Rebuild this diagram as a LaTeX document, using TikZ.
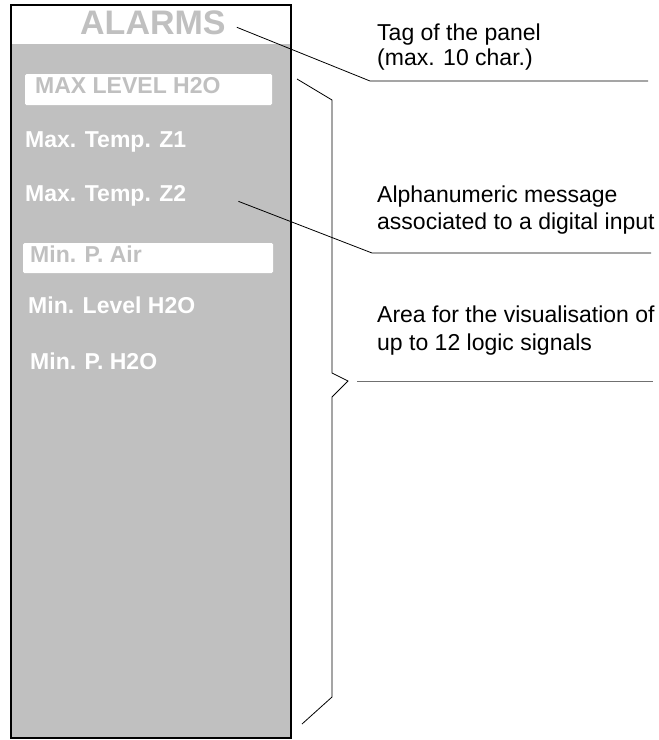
\documentclass[tikz,border=0pt]{standalone}
\usepackage{fontspec}
\setmainfont{Liberation Sans}
\definecolor{pgrey}{HTML}{C0C0C0}
\definecolor{lgrey}{HTML}{707070}
\begin{document}
\begin{tikzpicture}[x=1bp,y=-1bp,
  lbl/.style={inner sep=0pt, anchor=base west, font=\bfseries\fontsize{23bp}{28bp}\selectfont},
  note/.style={inner sep=0pt, anchor=base west, font=\fontsize{23bp}{28bp}\selectfont},
  lead/.style={line width=0.8bp, black},
  wbox/.style={fill=white, rounded corners=1.5bp}]
\useasboundingbox (0,0) rectangle (659,740);
% panel
\fill[pgrey] (11,5) rectangle (291,738);
\fill[white] (11,5) rectangle (291,44);
\draw[line width=2.5bp] (11,5) rectangle (291,738);
\fill[wbox] (25,74) rectangle (272,105);
\fill[wbox] (23,243) rectangle (273,273);
% panel texts
\node[inner sep=0pt, anchor=base west, text=pgrey, font=\bfseries\fontsize{34bp}{40bp}\selectfont] (alarms) at (80,35) {ALARMS};
\node[lbl, text=pgrey] (m1) at (35,93) {MAX LEVEL H2O};
\node[lbl, text=white] (m2) at (25,147) {Max. Temp. Z1};
\node[lbl, text=white] (m3) at (25,201) {Max. Temp. Z2};
\node[lbl, text=pgrey] (m4) at (30,262) {Min. P. Air};
\node[lbl, text=white] (m5) at (28,313) {Min. Level H2O};
\node[lbl, text=white] (m6) at (30,369) {Min. P. H2O};
% notes
\node[note] (n1a) at (377,41) {Tag of the panel};
\node[note] (n1b) at (377,66) {(max. 10 char.)};
\node[note] (n2a) at (377,202) {Alphanumeric message};
\node[note] (n2b) at (377,229) {associated to a digital input};
\node[note] (n3a) at (377,322) {Area for the visualisation of};
\node[note] (n3b) at (377,350) {up to 12 logic signals};
% leaders
\coordinate (k1) at (370,81);
\coordinate (k1e) at (648,81);
\draw[lead] ([xshift=11bp,yshift=-4bp]alarms.east) -- (k1) -- (k1e);
\coordinate (k2) at (372,253);
\coordinate (k2e) at (651,253);
\draw[lead] ([xshift=52bp,yshift=-6bp]m3.east) -- (k2) -- (k2e);
% bracket
\coordinate (b0) at (297,79);
\coordinate (b1) at (332,100);
\coordinate (b2) at (332,373);
\coordinate (b3) at (348,381);
\coordinate (b4) at (332,397);
\coordinate (b5) at (332,697);
\coordinate (b6) at (302,724);
\draw[lead, line join=miter] (b0) -- (b1) -- (b2) -- (b3) -- (b4) -- (b5) -- (b6);
\coordinate (k3) at (357,381);
\coordinate (k3e) at (653,381);
\draw[line width=0.9bp, lgrey] (k3) -- (k3e);
\end{tikzpicture}
\end{document}
